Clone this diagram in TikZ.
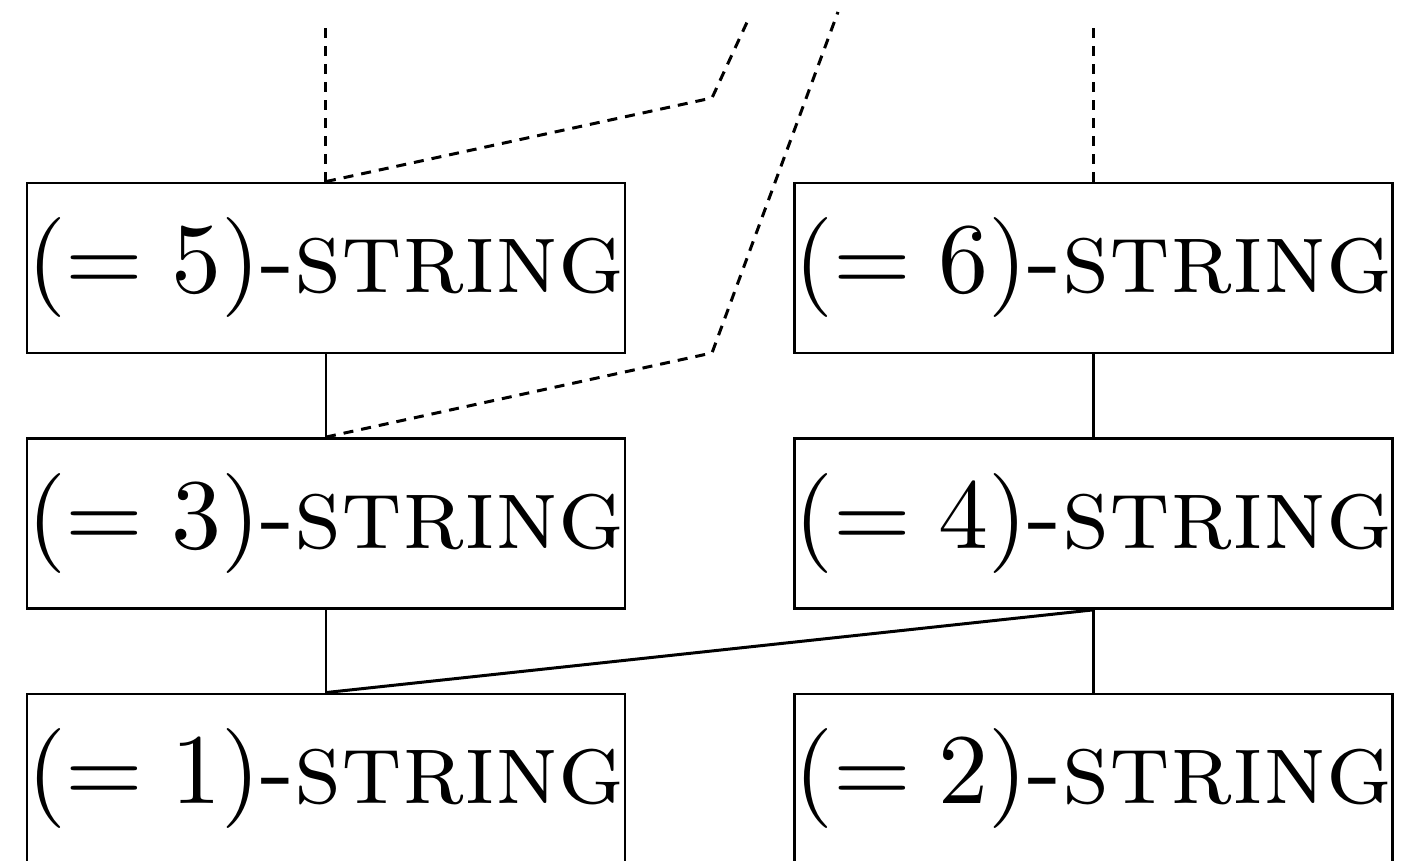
\documentclass[tikz,border=0pt]{standalone}
\begin{document}
\begin{tikzpicture}[x=0.1pt,y=-0.1pt,
  strbox/.style={draw,line width=0.28pt,minimum width=59.8pt,minimum height=17pt,inner sep=0pt,font=\fontsize{10.3}{12}\selectfont},
  conn/.style={line width=0.22pt},
  dconn/.style={line width=0.3pt,dash pattern=on 1pt off 0.8pt}]
\useasboundingbox (0,0) rectangle (1422,861);
\node[strbox] (b5) at (326,268) {$(=5)$-\textsc{string}};
\node[strbox] (b6) at (1093.5,268) {$(=6)$-\textsc{string}};
\node[strbox] (b3) at (326,523.5) {$(=3)$-\textsc{string}};
\node[strbox] (b4) at (1093.5,523.5) {$(=4)$-\textsc{string}};
\node[strbox] (b1) at (326,779) {$(=1)$-\textsc{string}};
\node[strbox] (b2) at (1093.5,779) {$(=2)$-\textsc{string}};
\coordinate (t5) at (326,22);
\coordinate (t6) at (1093.5,22);
\coordinate (k1) at (712,98);
\coordinate (e1) at (749,18);
\coordinate (k2) at (712,353);
\coordinate (e2) at (838,12);
\draw[conn] (b5.south) -- (b3.north);
\draw[conn] (b3.south) -- (b1.north);
\draw[conn] (b6.south) -- (b4.north);
\draw[conn] (b4.south) -- (b2.north);
\draw[conn,line width=0.3pt] (b4.south) -- (b1.north);
\draw[dconn] (b5.north) -- (t5);
\draw[dconn] (b6.north) -- (t6);
\draw[dconn] (b5.north) -- (k1) -- (e1);
\draw[dconn] (b3.north) -- (k2) -- (e2);
\end{tikzpicture}
\end{document}
